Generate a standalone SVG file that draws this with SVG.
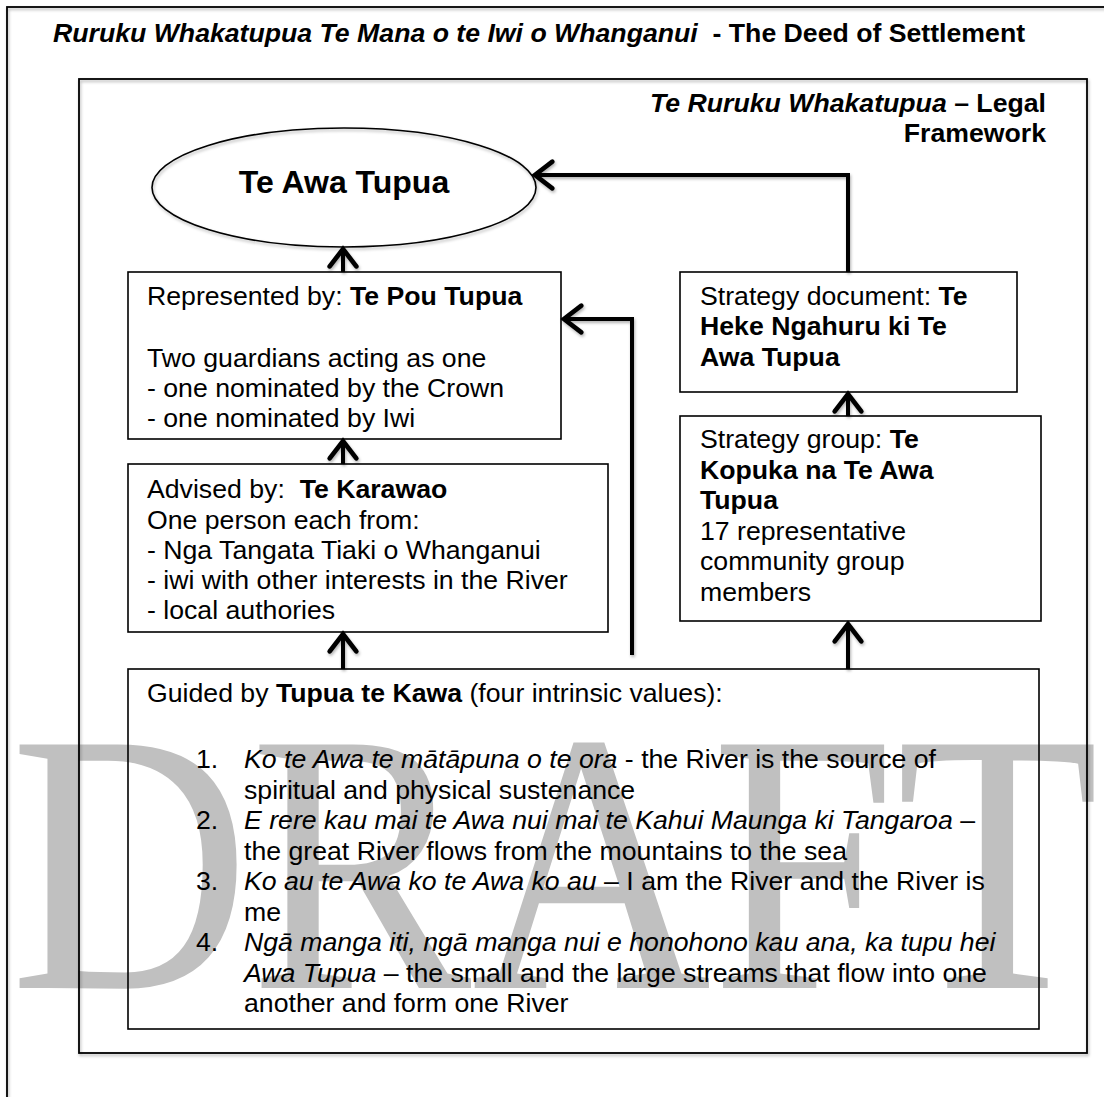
<svg xmlns="http://www.w3.org/2000/svg" width="1104" height="1097" viewBox="0 0 1104 1097">
<style>
text{font-family:"Liberation Sans",Arial,sans-serif;font-size:26.67px;fill:#000}
.b{font-weight:bold}
.i{font-style:italic}
.box{fill:none;stroke:#000;stroke-width:1.6}
.frame{fill:none;stroke:#000;stroke-width:1.8}
.conn{fill:none;stroke:#000;stroke-width:4;stroke-linejoin:miter}
.wm{font-family:"Liberation Serif","Times New Roman",serif;font-size:372px;fill:#c0c0c0}
</style>
<defs>
<filter id="sh" x="-5%" y="-5%" width="110%" height="110%">
<feDropShadow dx="1" dy="2" stdDeviation="1.5" flood-color="#000" flood-opacity="0.3"/>
</filter>
<marker id="arr" markerUnits="userSpaceOnUse" markerWidth="40" markerHeight="40" viewBox="-20 -15 25 30" refX="0" refY="0" orient="auto" overflow="visible">
<path d="M-13,-10 L0,0 L-13,10" fill="none" stroke="#000" stroke-width="3.5" stroke-linecap="round"/>
</marker>
</defs>
<rect width="1104" height="1097" fill="#fff"/>
<g id="watermark">
<text class="wm" transform="translate(10,988) scale(0.893,1)" x="0" y="0">DRAFT</text>
</g>
<g id="outer-frame">
<rect class="frame" x="7" y="7" width="1130" height="1130" filter="url(#sh)"/>
<text xml:space="preserve" x="53" y="42" class="b"><tspan class="i">Ruruku Whakatupua Te Mana o te Iwi o Whanganui</tspan>  - The Deed of Settlement</text>
</g>
<g id="legal-framework">
<rect class="frame" x="79" y="79" width="1008" height="974" filter="url(#sh)"/>
<text x="1046" y="112" text-anchor="end" class="b"><tspan class="i">Te Ruruku Whakatupua</tspan> – Legal</text>
<text x="1046" y="142" text-anchor="end" class="b">Framework</text>
</g>
<g id="te-awa-tupua">
<ellipse cx="344" cy="187.5" rx="192" ry="59.5" fill="none" stroke="#000" stroke-width="1.6" filter="url(#sh)"/>
<text x="344" y="193" text-anchor="middle" class="b" style="font-size:32px">Te Awa Tupua</text>
</g>
<g id="te-pou-tupua">
<rect class="box" x="128" y="272" width="433" height="167"/>
<text x="147" y="305">Represented by: <tspan class="b">Te Pou Tupua</tspan></text>
<text x="147" y="367">Two guardians acting as one</text>
<text x="147" y="397">- one nominated by the Crown</text>
<text x="147" y="427">- one nominated by Iwi</text>
</g>
<g id="te-karawao">
<rect class="box" x="128" y="464" width="480" height="168"/>
<text x="147" y="498" xml:space="preserve">Advised by:  <tspan class="b">Te Karawao</tspan></text>
<text x="147" y="529">One person each from:</text>
<text x="147" y="559">- Nga Tangata Tiaki o Whanganui</text>
<text x="147" y="589">- iwi with other interests in the River</text>
<text x="147" y="619">- local authories</text>
</g>
<g id="te-heke-ngahuru">
<rect class="box" x="680" y="272" width="337" height="120"/>
<text x="700" y="305">Strategy document: <tspan class="b">Te</tspan></text>
<text x="700" y="335" class="b">Heke Ngahuru ki Te</text>
<text x="700" y="366" class="b">Awa Tupua</text>
</g>
<g id="te-kopuka">
<rect class="box" x="680" y="416" width="361" height="205"/>
<text x="700" y="448">Strategy group: <tspan class="b">Te</tspan></text>
<text x="700" y="478.5" class="b">Kopuka na Te Awa</text>
<text x="700" y="509" class="b">Tupua</text>
<text x="700" y="539.5">17 representative</text>
<text x="700" y="570">community group</text>
<text x="700" y="600.5">members</text>
</g>
<g id="tupua-te-kawa">
<rect class="box" x="128" y="669" width="911" height="360"/>
<text x="147" y="702">Guided by <tspan class="b">Tupua te Kawa</tspan> (four intrinsic values):</text>
<text x="196" y="768">1.</text>
<text x="244" y="768"><tspan class="i">Ko te Awa te mātāpuna o te ora</tspan> - the River is the source of</text>
<text x="244" y="798.5">spiritual and physical sustenance</text>
<text x="196" y="829">2.</text>
<text x="244" y="829"><tspan class="i">E rere kau mai te Awa nui mai te Kahui Maunga ki Tangaroa</tspan> –</text>
<text x="244" y="859.5">the great River flows from the mountains to the sea</text>
<text x="196" y="890">3.</text>
<text x="244" y="890"><tspan class="i">Ko au te Awa ko te Awa ko au</tspan> – I am the River and the River is</text>
<text x="244" y="920.5">me</text>
<text x="196" y="951">4.</text>
<text x="244" y="951" class="i">Ngā manga iti, ngā manga nui e honohono kau ana, ka tupu hei</text>
<text x="244" y="981.5"><tspan class="i">Awa Tupua</tspan> – the small and the large streams that flow into one</text>
<text x="244" y="1012">another and form one River</text>
</g>
<g id="connectors" filter="url(#sh)">
<path class="conn" d="M343,272 L343,249" marker-end="url(#arr)"/>
<path class="conn" d="M343,464 L343,441" marker-end="url(#arr)"/>
<path class="conn" d="M343,669 L343,634" marker-end="url(#arr)"/>
<path class="conn" d="M632,655 L632,319 L564,319" marker-end="url(#arr)"/>
<path class="conn" d="M848,416 L848,394" marker-end="url(#arr)"/>
<path class="conn" d="M848,669 L848,624" marker-end="url(#arr)"/>
<path class="conn" d="M848,272 L848,175 L535,175" marker-end="url(#arr)"/>
</g>
</svg>
